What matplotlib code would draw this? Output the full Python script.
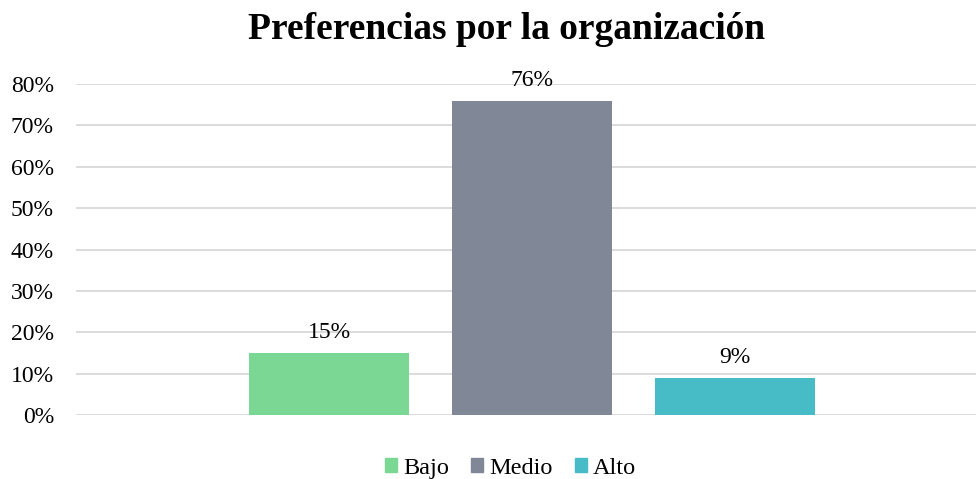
import numpy as np
import matplotlib.pyplot as plt
from matplotlib.patches import Patch
from matplotlib.ticker import PercentFormatter

plt.rcParams['font.family'] = ['Liberation Serif', 'DejaVu Serif']

# datos
categorias = ['Bajo', 'Medio', 'Alto']
valores = [0.15, 0.76, 0.09]
etiquetas = ['15%', '76%', '9%']
colores = ['#7AD794', '#808797', '#47BBC6']

fig = plt.figure(figsize=(9.76, 4.79), dpi=100)
ax = fig.add_axes([0.078, 0.1336, 0.922, 0.691])

x = np.arange(len(categorias))
ax.bar(x, valores, width=0.79, color=colores, zorder=3)

# etiquetas de datos
for xi, v, t in zip(x, valores, etiquetas):
    ax.annotate(t, (xi, v), xytext=(0, 7), textcoords='offset points',
                ha='center', va='bottom', fontsize=17)

ax.set_ylim(0, 0.8)
ax.set_xlim(-1.246, 3.187)
ax.set_yticks(np.arange(0, 0.81, 0.1))
ax.yaxis.set_major_formatter(PercentFormatter(1.0, decimals=0))
ax.tick_params(axis='y', length=0, labelsize=17, pad=16)
ax.set_xticks([])
ax.grid(axis='y', color='#D9D9D9', linewidth=1.3, zorder=0)
ax.set_axisbelow(True)
for s in ax.spines.values():
    s.set_visible(False)

fig.suptitle('Preferencias por la organización', fontsize=27,
             fontweight='bold', x=0.519, y=0.975)

handles = [Patch(color=c, label=l) for c, l in zip(colores, categorias)]
fig.legend(handles=handles, loc='lower center', bbox_to_anchor=(0.523, -0.045),
           ncol=3, frameon=False, fontsize=17.5, handlelength=0.5,
           handleheight=0.5, handletextpad=0.25, columnspacing=0.9)

plt.savefig('out.png', dpi=100)
